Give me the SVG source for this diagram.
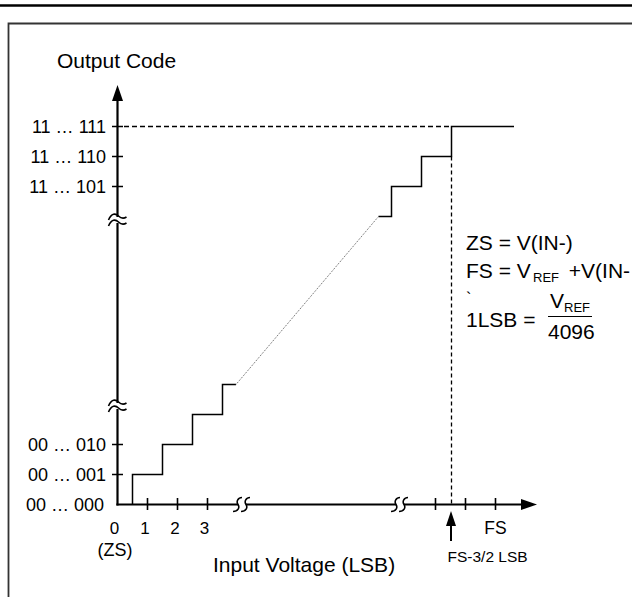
<svg xmlns="http://www.w3.org/2000/svg" width="632" height="597" viewBox="0 0 632 597">
<style>
text{font-family:"Liberation Sans",Arial,sans-serif;fill:#000}
.ax{stroke:#000;stroke-width:2.2;fill:none}
.tk{stroke:#000;stroke-width:1.6;fill:none}
.st{stroke:#000;stroke-width:1.5;fill:none}
.ds{stroke:#000;stroke-width:1.3;fill:none;stroke-dasharray:5 3}
.dt{stroke:#555;stroke-width:1;fill:none;stroke-dasharray:1 1.2}
.br{stroke:#000;stroke-width:1.6;fill:none}
.yl{font-size:18px;text-anchor:end}
.xl{font-size:17px;text-anchor:middle}
.rt{font-size:21px}
.sb{font-size:13px}
</style>
<defs>
<g id="ybreak">
<rect x="-3" y="-3" width="6" height="6" fill="#fff"/>
<path class="br" d="M-9,0 C-6,-7 -2,-7 1,-4 C4,-1 6,-1 9,-3"/>
<path class="br" d="M-9,6 C-6,-1 -2,-1 1,2 C4,5 6,5 9,3"/>
</g>
<g id="xbreak">
<rect x="-4" y="-3" width="8" height="6" fill="#fff"/>
<path class="br" d="M0,-7 C-4,-7 -6,-3 -4,0 C-2,3 -4,7 -9,7"/>
<path class="br" d="M8,-7 C4,-7 2,-3 4,0 C6,3 4,7 -1,7"/>
</g>
</defs>

<g id="frame">
<line x1="0" y1="5.5" x2="632" y2="5.5" stroke="#000" stroke-width="2.5"/>
<path d="M8.5,597 V23.5 H632" fill="none" stroke="#333" stroke-width="1.8"/>
</g>

<g id="connectors">
<line class="ds" x1="124" y1="126.5" x2="451.5" y2="126.5"/>
<line class="ds" x1="451.5" y1="156.5" x2="451.5" y2="504" style="stroke-dasharray:4 3"/>
<line class="ax" x1="117.5" y1="505.6" x2="117.5" y2="98"/>
<polygon points="117.5,85 112,101 123,101" fill="#000"/>
<line class="ax" x1="116.4" y1="504.5" x2="523" y2="504.5"/>
<polygon points="537,504.5 521,499 521,510" fill="#000"/>
<path class="tk" d="M112,126.5 H123 M112,156.5 H123 M112,186.5 H123 M112,444.5 H123 M112,474.5 H123"/>
<path class="tk" d="M147.5,498 V510 M177.5,498 V510 M207.5,498 V510 M435.5,498 V510 M465.5,498 V510 M495.5,498 V510"/>
<use href="#ybreak" x="117.5" y="220"/>
<use href="#ybreak" x="117.5" y="406"/>
<use href="#xbreak" x="242" y="504.5"/>
<use href="#xbreak" x="400" y="504.5"/>
<path class="st" d="M132.5,504.5 V474.5 H162.5 V444.5 H192.5 V414.5 H222.5 V384.5 H236"/>
<line class="dt" x1="236" y1="384.5" x2="378.5" y2="216.5"/>
<path class="st" d="M378.5,216.5 H391.5 V186.5 H421.5 V156.5 H451.5 V126.5 H514"/>
<line x1="451" y1="541" x2="451" y2="524" stroke="#000" stroke-width="2"/>
<polygon points="451,511 446,526 456,526" fill="#000"/>
</g>

<g id="ylabel">
<text x="57" y="68" style="font-size:21px">Output Code</text>
</g>
<g id="ytick-labels">
<text class="yl" x="106" y="133">11 … 111</text>
<text class="yl" x="106" y="163">11 … 110</text>
<text class="yl" x="106" y="193">11 … 101</text>
<text class="yl" x="106" y="451">00 … 010</text>
<text class="yl" x="106" y="481">00 … 001</text>
<text class="yl" x="104" y="511">00 … 000</text>
</g>
<g id="xtick-labels">
<text class="xl" x="114.5" y="534">0</text>
<text class="xl" x="145" y="534">1</text>
<text class="xl" x="175" y="534">2</text>
<text class="xl" x="204.5" y="534">3</text>
<text class="xl" x="115" y="556" style="font-size:18px">(ZS)</text>
<text class="xl" x="495.5" y="533.5" style="font-size:17.5px">FS</text>
<text x="447.5" y="561.5" style="font-size:15.5px">FS-3/2 LSB</text>
</g>
<g id="xlabel">
<text x="213" y="572" style="font-size:21px">Input Voltage (LSB)</text>
</g>
<g id="definitions">
<text class="rt" x="466" y="250">ZS = V(IN-)</text>
<text class="rt" x="466" y="278">FS = V<tspan class="sb" x="533" y="282">REF</tspan><tspan x="563" y="278"> +V(IN-</tspan></text>
<text x="466" y="304" style="font-size:16px">`</text>
<text class="rt" x="466" y="327">1LSB =</text>
<text class="rt" x="550" y="308">V<tspan class="sb" x="564" y="312">REF</tspan></text>
<line x1="548" y1="316.5" x2="592" y2="316.5" stroke="#000" stroke-width="1.2"/>
<text class="rt" x="548" y="339">4096</text>
</g>
</svg>
